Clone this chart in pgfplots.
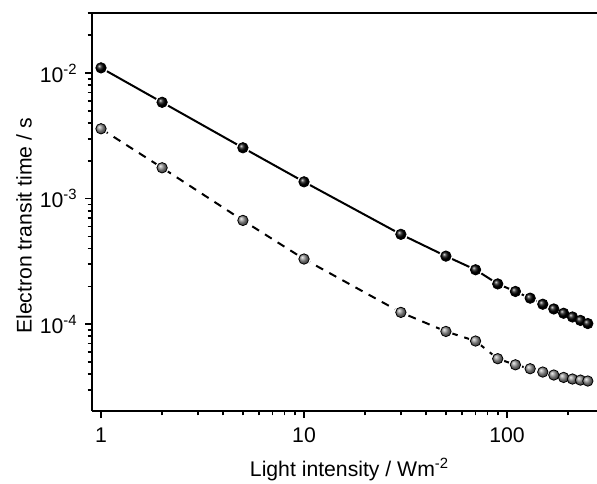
\documentclass[border=0pt]{standalone}
\usepackage{pgfplots}
\pgfplotsset{compat=1.18}
\usepackage{fontspec}
\setmainfont{Liberation Sans}
\pgfplotstableread{
x y
1 0.0110
2 0.00585
5 0.00254
10 0.00136
30 5.19e-4
50 3.48e-4
70 2.71e-4
90 2.09e-4
110 1.82e-4
130 1.61e-4
150 1.44e-4
170 1.32e-4
190 1.22e-4
210 1.14e-4
230 1.07e-4
250 1.01e-4
}\blackdata
\pgfplotstableread{
x y
1 3.60e-3
2 1.76e-3
5 6.70e-4
10 3.30e-4
30 1.24e-4
50 8.74e-5
70 7.33e-5
90 5.30e-5
110 4.74e-5
130 4.41e-5
150 4.15e-5
170 3.93e-5
190 3.76e-5
210 3.65e-5
230 3.58e-5
250 3.52e-5
}\graydata
\begin{document}
\fontsize{10.6}{12.5}\selectfont
\begin{tikzpicture}
\useasboundingbox (-46pt,-36pt) rectangle (252.5pt,205.5pt);
\begin{axis}[
  at={(0,0)}, anchor=south west,
  scale only axis, width=252.5pt, height=199pt,
  xmode=log, ymode=log,
  xmin=0.903, xmax=277.5, ymin=2.03e-5, ymax=0.0301,
  axis lines*=left, axis line style={line width=1pt},
  clip=false,
  tick align=outside, major tick length=3.5pt, minor tick length=2.2pt,
  every tick/.style={black, line width=0.8pt},
  /pgf/number format/assume math mode=true,
  xtick={1,10,100}, xticklabels={1,10,100},
  minor xtick={2,3,4,5,6,7,8,9,20,30,40,50,60,70,80,90,200},
  ytick={1e-4,1e-3,1e-2},
  yticklabels={10\textsuperscript{-4},10\textsuperscript{-3},10\textsuperscript{-2}},
  minor ytick={2e-5,3e-5,4e-5,5e-5,6e-5,7e-5,8e-5,9e-5,2e-4,3e-4,4e-4,5e-4,6e-4,7e-4,8e-4,9e-4,2e-3,3e-3,4e-3,5e-3,6e-3,7e-3,8e-3,9e-3,2e-2,3e-2},
  xticklabel style={yshift=-1pt},
  xlabel={Light intensity / Wm\textsuperscript{-2}},
  ylabel={Electron transit time / s},
  xlabel style={at={(axis description cs:0.51,-0.148)}, anchor=center},
  ylabel style={at={(axis description cs:-0.1347,0.465)}, anchor=center, rotate=0},
]
\draw[line width=1pt] (rel axis cs:0,1) -- (rel axis cs:1,1);
% gray dashed series
\addplot[black, line width=1pt, dash pattern=on 4pt off 3.5pt, no marks] table[x=x,y=y] {\graydata};
\addplot[only marks, mark=*, mark size=3.2pt, mark options={fill=white, draw=white}] table[x=x,y=y] {\graydata};
\addplot[only marks, mark=ball, mark size=2.6pt, mark options={ball color=black!45}] table[x=x,y=y] {\graydata};
% black solid series
\addplot[black, line width=1pt, no marks] table[x=x,y=y] {\blackdata};
\addplot[only marks, mark=*, mark size=3.2pt, mark options={fill=white, draw=white}] table[x=x,y=y] {\blackdata};
\addplot[only marks, mark=ball, mark size=2.6pt, mark options={ball color=black}] table[x=x,y=y] {\blackdata};
\end{axis}
\end{tikzpicture}
\end{document}
